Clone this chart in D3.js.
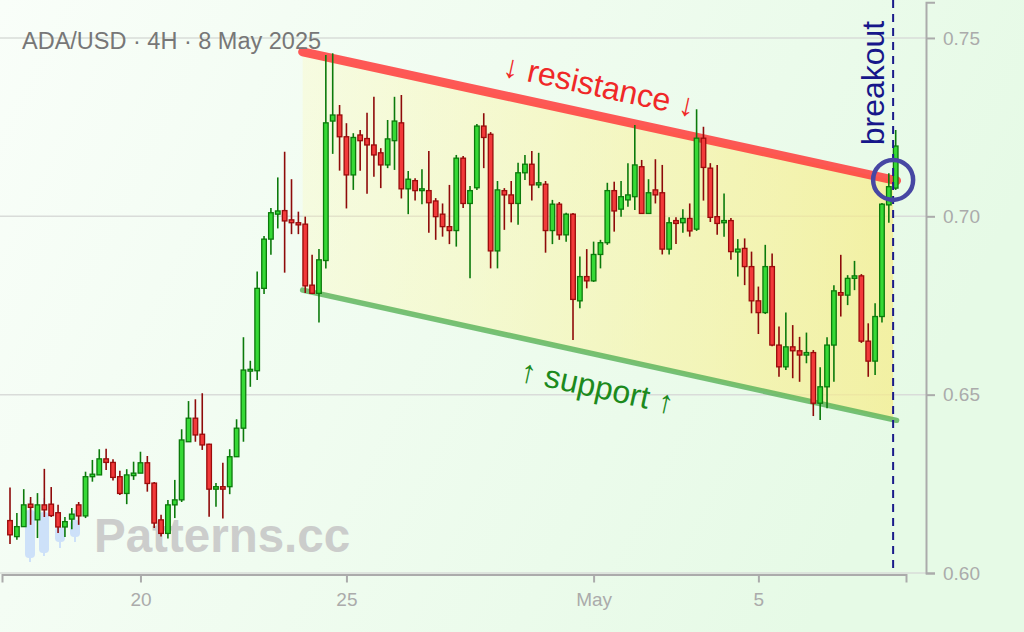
<!DOCTYPE html>
<html><head><meta charset="utf-8">
<script src="https://cdn.jsdelivr.net/npm/d3@7"></script>
<style>html,body{margin:0;padding:0;background:#fff;} svg{display:block;font-family:"Liberation Sans",Arial,sans-serif;}</style>
</head><body>
<svg id="c" width="1024" height="632"></svg>
<script>
const title = "ADA/USD · 4H · 8 May 2025";
const firstCandle = Date.UTC(2025,3,16,20);
const stepHours = 4;
const opens = [
0.6147,0.6102,0.6130,0.6193,0.6149,0.6191,0.6193,0.6169,0.6129,0.6151,
0.6191,0.6160,0.6270,0.6275,0.6320,0.6310,0.6270,0.6223,0.6273,0.6280,
0.6309,0.6252,0.6149,0.6111,0.6191,0.6205,0.6368,0.6434,0.6389,0.6361,
0.6235,0.6242,0.6242,0.6326,0.6406,0.6566,0.6567,0.6798,0.6936,0.7006,
0.7016,0.6990,0.6982,0.6978,0.6807,0.6784,0.6876,0.7267,0.7284,0.7223,
0.7116,0.7228,0.7218,0.7200,0.7178,0.7144,0.7212,0.7262,0.7077,0.7100,
0.7072,0.7072,0.7043,0.7006,0.6971,0.6960,0.7163,0.7036,0.7080,0.7253,
0.7230,0.6903,0.7072,0.7060,0.7036,0.7122,0.7146,0.7088,0.7090,0.6960,
0.7034,0.6948,0.7006,0.6763,0.6831,0.6819,0.6893,0.6926,0.7072,0.7020,
0.7046,0.7055,0.7139,0.7008,0.7074,0.7066,0.6908,0.6988,0.6982,0.6994,
0.6964,0.7219,0.7135,0.6999,0.6982,0.6988,0.6900,0.6910,0.6859,0.6763,
0.6730,0.6859,0.6639,0.6578,0.6634,0.6623,0.6611,0.6618,0.6476,0.6522,
0.6639,0.6786,0.6779,0.6826,0.6833,0.6650,0.6594,0.6719,0.7032,0.7079];
const highs = [
0.6240,0.6168,0.6235,0.6213,0.6224,0.6292,0.6241,0.6191,0.6157,0.6182,
0.6199,0.6284,0.6317,0.6347,0.6348,0.6319,0.6287,0.6291,0.6312,0.6340,
0.6328,0.6255,0.6163,0.6205,0.6261,0.6403,0.6482,0.6487,0.6504,0.6362,
0.6252,0.6309,0.6347,0.6431,0.6661,0.6595,0.6845,0.6945,0.7023,0.7109,
0.7181,0.7104,0.7013,0.6999,0.6892,0.6908,0.7452,0.7457,0.7312,0.7261,
0.7233,0.7242,0.7290,0.7335,0.7191,0.7270,0.7335,0.7340,0.7127,0.7107,
0.7132,0.7183,0.7051,0.7036,0.7088,0.7172,0.7169,0.7085,0.7259,0.7289,
0.7236,0.7099,0.7079,0.7099,0.7150,0.7172,0.7183,0.7178,0.7099,0.7046,
0.7040,0.7010,0.7009,0.6887,0.6908,0.6929,0.6934,0.7094,0.7097,0.7099,
0.7149,0.7256,0.7158,0.7104,0.7160,0.7144,0.6997,0.6997,0.7020,0.7036,
0.7300,0.7251,0.7149,0.7144,0.7064,0.6995,0.6936,0.6938,0.6901,0.6803,
0.6920,0.6896,0.6691,0.6730,0.6695,0.6662,0.6674,0.6625,0.6577,0.6661,
0.6807,0.6892,0.6835,0.6875,0.6838,0.6700,0.6756,0.7037,0.7121,0.7242];
const lows = [
0.6081,0.6093,0.6129,0.6135,0.6098,0.6157,0.6157,0.6112,0.6101,0.6123,
0.6135,0.6154,0.6256,0.6275,0.6289,0.6259,0.6219,0.6193,0.6261,0.6280,
0.6228,0.6126,0.6102,0.6097,0.6154,0.6199,0.6368,0.6368,0.6345,0.6158,
0.6186,0.6153,0.6221,0.6326,0.6368,0.6522,0.6541,0.6782,0.6892,0.6966,
0.6842,0.6950,0.6950,0.6785,0.6782,0.6702,0.6854,0.7175,0.7128,0.7022,
0.7074,0.7128,0.7063,0.7111,0.7079,0.7135,0.7130,0.7050,0.7006,0.7044,
0.7034,0.6954,0.6934,0.6943,0.6922,0.6915,0.7023,0.6826,0.7074,0.7135,
0.6854,0.6854,0.6962,0.6983,0.6976,0.7102,0.7044,0.7079,0.6898,0.6922,
0.6934,0.6929,0.6653,0.6742,0.6798,0.6816,0.6854,0.6920,0.6957,0.6999,
0.7027,0.7018,0.7008,0.7008,0.7036,0.6893,0.6893,0.6922,0.6954,0.6943,
0.6959,0.7044,0.6984,0.6948,0.6943,0.6878,0.6831,0.6807,0.6728,0.6670,
0.6726,0.6636,0.6550,0.6569,0.6546,0.6536,0.6588,0.6440,0.6429,0.6462,
0.6536,0.6719,0.6751,0.6793,0.6645,0.6550,0.6555,0.6702,0.6982,0.7074];
const closes = [
0.6107,0.6130,0.6191,0.6184,0.6191,0.6177,0.6161,0.6129,0.6144,0.6165,
0.6160,0.6270,0.6277,0.6320,0.6310,0.6268,0.6223,0.6275,0.6280,0.6309,
0.6251,0.6140,0.6111,0.6191,0.6205,0.6373,0.6434,0.6387,0.6359,0.6235,
0.6242,0.6235,0.6326,0.6406,0.6569,0.6571,0.6798,0.6936,0.7010,0.7015,
0.6987,0.6982,0.6976,0.6805,0.6784,0.6878,0.7262,0.7284,0.7223,0.7116,
0.7221,0.7212,0.7200,0.7172,0.7144,0.7217,0.7267,0.7077,0.7104,0.7072,
0.7077,0.7038,0.6999,0.6971,0.6960,0.7163,0.7036,0.7072,0.7253,0.7221,
0.6903,0.7074,0.7060,0.7036,0.7122,0.7146,0.7088,0.7094,0.6960,0.7034,
0.6948,0.7006,0.6767,0.6831,0.6819,0.6893,0.6926,0.7072,0.7015,0.7055,
0.7060,0.7144,0.7008,0.7066,0.7060,0.6908,0.6982,0.6980,0.6994,0.6959,
0.7219,0.7137,0.6997,0.6980,0.6988,0.6901,0.6908,0.6859,0.6763,0.6730,
0.6859,0.6639,0.6578,0.6634,0.6623,0.6611,0.6618,0.6476,0.6522,0.6639,
0.6791,0.6779,0.6826,0.6833,0.6650,0.6594,0.6719,0.7034,0.7083,0.7197];
const xTicks = [Date.UTC(2025,3,20), Date.UTC(2025,3,25), Date.UTC(2025,4,1), Date.UTC(2025,4,5)];
const xTickLabels = ["20","25","May","5"];
const yTicks = [0.60,0.65,0.70,0.75];
const channelTimes = [Date.UTC(2025,3,23,22,30), Date.UTC(2025,4,8,8,30)];
const resistance = [0.7461, 0.7100];
const support = [0.6793, 0.6428];
const breakoutTime = Date.UTC(2025,4,8,6,30);
const labels = {resistance: "↓ resistance ↓", support: "↑ support ↑", breakout: "breakout", watermark: "Patterns.cc"};

const candles = opens.map((o,i)=>({t:new Date(firstCandle + i*stepHours*3600e3), o, h:highs[i], l:lows[i], c:closes[i]}));

const svg = d3.select("#c");
const W = 1024, H = 632;
const x = d3.scaleUtc().domain([new Date(Date.UTC(2025,3,16,15,20)), new Date(Date.UTC(2025,4,8,14,0))]).range([2,906]);
const y = d3.scaleLinear().domain([0.6,0.76]).range([573, 2.28]);
const axisX = 926;

const defs = svg.append("defs");
const bg = defs.append("linearGradient").attr("id","bg").attr("x1",0).attr("x2",1).attr("y1",0).attr("y2",0.3);
bg.append("stop").attr("offset",0).attr("stop-color","#f9fef9");
bg.append("stop").attr("offset",1).attr("stop-color","#e6fae6");
const chg = defs.append("linearGradient").attr("id","chg").attr("gradientUnits","userSpaceOnUse")
  .attr("x1", x(channelTimes[0])).attr("x2", x(breakoutTime)).attr("y1",0).attr("y2",0);
chg.append("stop").attr("offset",0).attr("stop-color","#fff7a8").attr("stop-opacity",0.25);
chg.append("stop").attr("offset",1).attr("stop-color","#f7ec86").attr("stop-opacity",0.7);

svg.append("rect").attr("width",W).attr("height",H).attr("fill","url(#bg)");

// gridlines
svg.append("g").selectAll("line").data(yTicks).join("line")
  .attr("x1",0).attr("x2",axisX).attr("y1",d=>y(d)).attr("y2",d=>y(d))
  .attr("stroke","#d9dcd9").attr("stroke-width",1.5);

// channel fill
const lerp = (arr, t) => arr[0] + (arr[1]-arr[0]) * (t - channelTimes[0])/(channelTimes[1]-channelTimes[0]);
const poly = [
  [x(channelTimes[0]), y(resistance[0])],
  [x(breakoutTime), y(lerp(resistance, breakoutTime))],
  [x(breakoutTime), y(lerp(support, breakoutTime))],
  [x(channelTimes[0]), y(support[0])]
];
svg.append("path").attr("d", d3.line()(poly) + "Z").attr("fill","url(#chg)");

// channel lines
const lineGen = d3.line().x(d=>x(d[0])).y(d=>y(d[1]));
svg.append("path").attr("d", lineGen(channelTimes.map((t,i)=>[t,resistance[i]])))
  .attr("stroke","#ff3b3b").attr("stroke-opacity",0.85).attr("stroke-width",9).attr("stroke-linecap","round").attr("fill","none");
svg.append("path").attr("d", lineGen(channelTimes.map((t,i)=>[t,support[i]])))
  .attr("stroke","#58b258").attr("stroke-opacity",0.8).attr("stroke-width",5.5).attr("stroke-linecap","round").attr("fill","none");

// watermark
const wm = svg.append("g").attr("opacity",0.9);
const icon = [[30,510,558,500,562],[44,512,553,498,556],[60,527,542,512,548],[75,520,537,510,542]];
wm.selectAll("line").data(icon).join("line").attr("x1",d=>d[0]).attr("x2",d=>d[0]).attr("y1",d=>d[3]).attr("y2",d=>d[4])
  .attr("stroke","#c9defa").attr("stroke-width",2);
wm.selectAll("rect").data(icon).join("rect").attr("x",d=>d[0]-5).attr("width",10).attr("y",d=>d[1]).attr("height",d=>d[2]-d[1])
  .attr("rx",4).attr("fill","#c9defa");
wm.append("text").attr("x",94).attr("y",552).attr("font-size",47.5).attr("font-weight","bold")
  .attr("fill","#c8c8c8").text(labels.watermark);

// candles
const cg = svg.append("g");
const cw = 4.6;
cg.selectAll("line").data(candles).join("line")
  .attr("x1",d=>x(d.t)).attr("x2",d=>x(d.t)).attr("y1",d=>y(d.h)).attr("y2",d=>y(d.l))
  .attr("stroke",d=>d.c>=d.o?"#0b7a0b":"#8e0a0a").attr("stroke-width",1.6);
cg.selectAll("rect").data(candles).join("rect")
  .attr("x",d=>x(d.t)-cw/2).attr("width",cw)
  .attr("y",d=>y(Math.max(d.o,d.c))).attr("height",d=>Math.max(1,Math.abs(y(d.o)-y(d.c))))
  .attr("fill",d=>d.c>=d.o?"#36d936":"#f23a3a")
  .attr("stroke",d=>d.c>=d.o?"#0b7a0b":"#9a0b0b").attr("stroke-width",1.3);

// labels on channel
function placeLabel(arr, px, off, txt, color){
  const x1=x(channelTimes[0]), x2=x(channelTimes[1]), y1=y(arr[0]), y2=y(arr[1]);
  const ang = Math.atan2(y2-y1, x2-x1)*180/Math.PI;
  const py = y1 + (y2-y1)*(px-x1)/(x2-x1);
  svg.append("text").attr("transform",`translate(${px},${py}) rotate(${ang})`)
    .attr("y",off).attr("dy","0.35em").attr("text-anchor","middle")
    .attr("font-size",32).attr("fill",color).text(txt);
}
placeLabel(resistance, 593, -30, labels.resistance, "#f02828");
placeLabel(support, 604, 31, labels.support, "#1d8a1d");

// breakout
const bx = x(breakoutTime);
svg.append("line").attr("x1",bx).attr("x2",bx).attr("y1",0).attr("y2",574)
  .attr("stroke","#1a1a8a").attr("stroke-width",2).attr("stroke-dasharray","8,6");
svg.append("circle").attr("cx",bx).attr("cy",y(lerp(resistance, breakoutTime))).attr("r",20)
  .attr("fill","none").attr("stroke","#4747a3").attr("stroke-width",4.5);
svg.append("text").attr("transform",`translate(${bx-9},83) rotate(-90)`).attr("text-anchor","middle")
  .attr("font-size",32).attr("fill","#17178a").text(labels.breakout);

// axes
const gx = svg.append("g").attr("transform","translate(0,574.5)")
  .call(d3.axisBottom(x).tickValues(xTicks.map(d=>new Date(d))).tickSize(8).tickPadding(10).tickFormat((d,i)=>xTickLabels[i]));
const gy = svg.append("g").attr("transform",`translate(${axisX},0)`)
  .call(d3.axisRight(y).tickValues(yTicks).tickSize(9).tickPadding(8).tickFormat(d3.format(".2f")));
[gx,gy].forEach(g=>{
  g.selectAll("path,line").attr("stroke","#ababab").attr("stroke-width",2);
  g.selectAll("text").attr("fill","#ababab").attr("font-size",19).attr("font-family","'Liberation Sans',Arial,sans-serif");
});

// title
svg.append("text").attr("x",22).attr("y",49).attr("font-size",23.5).attr("fill","#777").text(title);
</script>
</body></html>
